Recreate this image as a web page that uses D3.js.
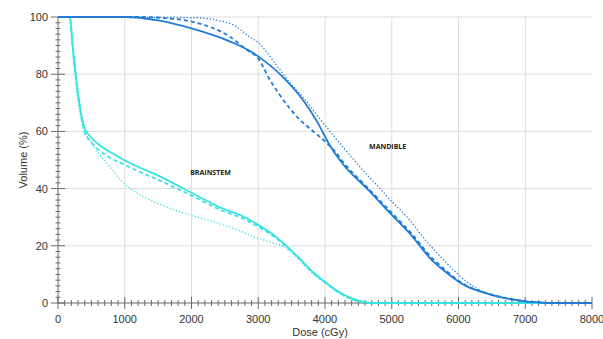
<!DOCTYPE html>
<html><head><meta charset="utf-8">
<script src="https://cdn.jsdelivr.net/npm/d3@7"></script>
<style>
html,body{margin:0;padding:0;background:#fff;}
svg{display:block;font-family:"Liberation Sans",Arial,sans-serif;}
</style></head>
<body>
<svg id="chart" width="603" height="339"></svg>
<script>
// ---- data (dose in cGy, volume in %) ----
const xTicks = [0,1000,2000,3000,4000,5000,6000,7000,8000];
const yTicks = [0,20,40,60,80,100];
const xLabel = "Dose (cGy)";
const yLabel = "Volume (%)";

const brainstemSolid = [[0,100],[150,100],[180,99.5],[220,90],[265,80],[320,70],[400,61],[480,58.3],[600,55.6],[750,53.2],[975,50.2],[1230,47.3],[1480,44.8],[1980,38.8],[2430,33.4],[2800,30],[3000,27.3],[3200,24.3],[3400,20.4],[3600,16],[3800,11.2],[4000,7.4],[4200,4],[4400,1.6],[4600,0.3],[4750,0],[8000,0]];
const brainstemDashed = [[0,100],[150,100],[180,99.5],[218,90],[262,80],[316,70],[395,60],[480,56.7],[600,53.8],[750,51.2],[975,48.6],[1230,45.8],[1480,43.3],[1980,37.8],[2430,32.6],[2800,29.2],[3000,26.7],[3200,23.8],[3400,20.2],[3600,15.8],[3800,11],[4000,7.2],[4200,3.8],[4400,1.4],[4600,0.2],[4750,0],[8000,0]];
const brainstemDotted = [[0,100],[150,100],[180,99.5],[212,90],[255,80],[305,70],[380,61],[480,57],[600,52.5],[730,49],[980,42],[1230,37.8],[1480,35],[1980,30.8],[2300,28.6],[2620,26.2],[3000,22.6],[3200,21.2],[3370,19.8],[3600,15.5],[3800,10.6],[4000,7],[4200,3.6],[4400,1.2],[4600,0.1],[4700,0],[8000,0]];

const mandibleSolid = [[0,100],[1000,100],[1500,98.8],[2000,96],[2580,91.4],[2925,87.4],[3070,85],[3370,79],[3670,71],[3880,63.5],[4075,55],[4270,48.5],[4630,40],[5000,30.8],[5300,23.5],[5600,15],[5800,11],[6020,7.2],[6200,5],[6370,3.7],[6600,2.2],[6870,1],[7000,0.6],[7220,0.2],[7350,0],[8000,0]];
const mandibleDashed = [[0,100],[1200,100],[1600,99.6],[2000,98.4],[2580,93],[2830,88.5],[3000,85.5],[3175,78],[3300,73.5],[3475,68],[3625,64],[3800,60.5],[4000,56.5],[4150,53],[4270,49.3],[4630,40.5],[5000,31.5],[5300,24.2],[5600,15.8],[5800,11.6],[6020,7.5],[6200,5.2],[6370,3.8],[6600,2.3],[6870,1],[7000,0.6],[7220,0.2],[7350,0],[8000,0]];
const mandibleDotted = [[0,100],[2000,99.8],[2580,97.7],[2876,93],[3000,91],[3280,83],[3475,77],[3670,72],[3880,65.7],[4270,54.5],[4630,44.8],[4825,40],[5000,35.5],[5270,29],[5470,23],[5800,14.5],[6125,7.4],[6400,3.6],[6800,1.2],[7000,0.6],[7200,0.2],[7350,0],[8000,0]];

const structureLabels = [{text:"BRAINSTEM", dose:1980, vol:44.8},{text:"MANDIBLE", dose:4660, vol:53.9}];

// ---- layout ----
const svg = d3.select("#chart");
const L = 58, R = 592, T = 17, B = 303;
const x = d3.scaleLinear().domain([0,8000]).range([L,R]);
const y = d3.scaleLinear().domain([0,100]).range([B,T]);

const cyan = "#35e3e3", blue = "#1f7bd6";

// grid
const g = svg.append("g");
g.selectAll("line.vg").data(xTicks.filter(d=>d>0 && d<8000)).join("line")
  .attr("x1",d=>x(d)).attr("x2",d=>x(d)).attr("y1",T).attr("y2",B)
  .attr("stroke","#dcdcdc").attr("stroke-width",1);
g.selectAll("line.hg").data(yTicks.filter(d=>d>0)).join("line")
  .attr("x1",L).attr("x2",R).attr("y1",d=>y(d)).attr("y2",d=>y(d))
  .attr("stroke","#dcdcdc").attr("stroke-width",1);

// axes with minor ticks crossing axis line
const axisColor = "#6a6a6a";
const ax = svg.append("g");
ax.append("line").attr("x1",L).attr("x2",R).attr("y1",B).attr("y2",B).attr("stroke",axisColor);
ax.append("line").attr("x1",L).attr("x2",L).attr("y1",T).attr("y2",B).attr("stroke",axisColor);
const xMinor = d3.range(0,8001,100);
ax.selectAll("line.xm").data(xMinor).join("line")
  .attr("x1",d=>x(d)).attr("x2",d=>x(d))
  .attr("y1",d=>B-(d%1000===0?6:3)).attr("y2",d=>B+(d%1000===0?6:3))
  .attr("stroke",axisColor);
const yMinor = d3.range(0,101,2);
ax.selectAll("line.ym").data(yMinor).join("line")
  .attr("y1",d=>y(d)).attr("y2",d=>y(d))
  .attr("x1",d=>L-(d%20===0?7:2.5)).attr("x2",d=>L+(d%20===0?7:2.5))
  .attr("stroke",axisColor);

ax.selectAll("text.xt").data(xTicks).join("text")
  .attr("x",d=>x(d)).attr("y",323).attr("text-anchor","middle")
  .attr("font-size",11).attr("fill","#333").text(d=>d);
ax.selectAll("text.yt").data(yTicks).join("text")
  .attr("x",48).attr("y",d=>y(d)+4).attr("text-anchor","end")
  .attr("font-size",11).attr("fill","#333").text(d=>d);

svg.append("text").attr("x",320).attr("y",336).attr("text-anchor","middle")
  .attr("font-size",11).attr("fill","#333").text(xLabel);
svg.append("text").attr("transform","translate(27,160) rotate(-90)").attr("text-anchor","middle")
  .attr("font-size",11).attr("fill","#333").text(yLabel);

// curves
const line = d3.line().x(d=>x(d[0])).y(d=>y(d[1])).curve(d3.curveMonotoneX);
const series = [
  {data:brainstemDotted, color:cyan, w:1.3, dash:"1.3,2"},
  {data:brainstemDashed, color:cyan, w:1.8, dash:"4,3"},
  {data:brainstemSolid, color:cyan, w:1.8, dash:null},
  {data:mandibleDotted, color:blue, w:1.3, dash:"1.3,2"},
  {data:mandibleDashed, color:blue, w:1.8, dash:"4,3"},
  {data:mandibleSolid, color:blue, w:1.8, dash:null},
];
svg.append("g").selectAll("path").data(series).join("path")
  .attr("d",d=>line(d.data)).attr("fill","none")
  .attr("stroke",d=>d.color).attr("stroke-width",d=>d.w)
  .attr("stroke-dasharray",d=>d.dash);

svg.append("g").selectAll("text").data(structureLabels).join("text")
  .attr("x",d=>x(d.dose)).attr("y",d=>y(d.vol)).attr("font-size",7)
  .attr("font-weight","bold").attr("fill","#222")
  .attr("font-family","'Open Sans','Liberation Sans',sans-serif")
  .text(d=>d.text);
</script>
</body></html>
